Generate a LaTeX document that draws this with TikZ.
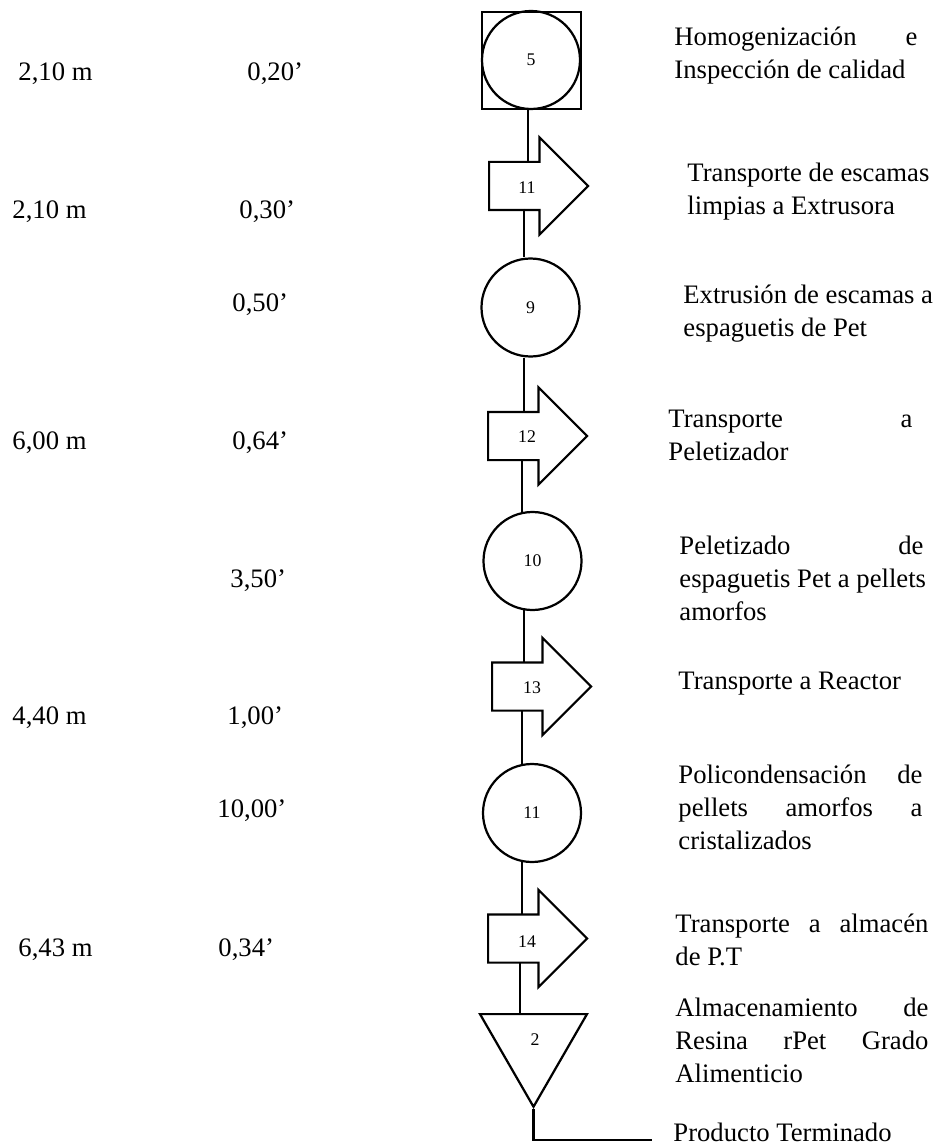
\documentclass[tikz,border=0pt]{standalone}
\usepackage{fontspec}
\setmainfont{Liberation Serif}
\usetikzlibrary{shapes.geometric, shapes.arrows, calc}
\newlength\pxu
\setlength\pxu{0.45pt}
\newcommand\llena[2]{\makebox[#1\pxu][s]{#2}}
\tikzstyle{operacion} = [circle, draw, line width=1pt, minimum size=98\pxu, inner sep=0pt, font=\fontsize{8}{9}\selectfont]
\tikzstyle{inspeccion} = [rectangle, draw, line width=1.2pt, minimum width=99\pxu, minimum height=97\pxu, inner sep=0pt]
\tikzstyle{transporte} = [single arrow, draw, line width=1pt, anchor=tail, inner xsep=0pt, inner ysep=10.35pt, minimum height=99\pxu, minimum width=95\pxu, single arrow head extend=24.5\pxu, single arrow tip angle=90]
\tikzstyle{almacen} = [regular polygon, regular polygon sides=3, shape border rotate=180, draw, line width=1pt, minimum size=123.5\pxu, inner sep=0pt]
\tikzstyle{etiqueta} = [inner sep=0pt, font=\fontsize{8}{9}\selectfont]
\tikzstyle{dato} = [anchor=base west, inner sep=0pt, font=\fontsize{12}{14.85}\selectfont]
\tikzstyle{texto} = [anchor=north west, inner sep=0pt, align=left, font=\fontsize{12}{14.85}\selectfont]
\tikzstyle{linea} = [line width=1pt]

\begin{document}
\begin{tikzpicture}[x=0.45pt, y=-0.45pt]
\useasboundingbox (0,0) rectangle (936,1145);

\node[inspeccion] (op5box) at (531.5,60.5) {};
\node[operacion] (op5) at (531,60) {5};
\node[transporte] (tr11) at (488,186) {};
\node[etiqueta] (n11) at (527,188) {11};
\node[operacion] (op9) at (530.5,307.5) {9};
\node[transporte] (tr12) at (487,436) {};
\node[etiqueta] (n12) at (527,437) {12};
\node[operacion] (op10) at (532.5,561) {10};
\node[transporte] (tr13) at (491,686.5) {};
\node[etiqueta] (n13) at (532,688) {13};
\node[operacion] (op11) at (532,813) {11};
\node[transporte] (tr14) at (487,938.5) {};
\node[etiqueta] (n14) at (527,942) {14};
\node[almacen] (st2) at (533.5,1045) {};
\node[etiqueta] (n2) at (535,1040) {2};
\coordinate (fin) at (652,1140);

\draw[linea] ($(op5.south)+(-3,0)$) -- ($(tr11.tail)+(40,-23)$);
\draw[linea] ($(tr11.tail)+(36,23)$) -- ($(op9.north)+(-6.5,0)$);
\draw[linea] ($(op9.south)+(-6.5,0)$) -- ($(tr12.tail)+(37,-23)$);
\draw[linea] ($(tr12.tail)+(35,23)$) -- ($(op10.north)+(-10.5,1)$);
\draw[linea] ($(op10.south)+(-8.5,-1)$) -- ($(tr13.tail)+(33,-23.5)$);
\draw[linea] ($(tr13.tail)+(31,23.5)$) -- ($(op11.north)+(-10,1)$);
\draw[linea] ($(op11.south)+(-10,-1)$) -- ($(tr14.tail)+(35,-23.5)$);
\draw[linea] ($(tr14.tail)+(33,23.5)$) -- ($(st2.side 2)+(-13.5,0)$);
\draw[linea] (st2.corner 1) |- (fin);

\node[texto] (t5) at (674,22) {\strut\llena{243}{Homogenización e}\\Inspección de calidad};
\node[texto] (t11) at (687,158) {\strut Transporte de escamas\\limpias a Extrusora};
\node[texto] (t9) at (683,280) {\strut Extrusión de escamas a\\espaguetis de Pet};
\node[texto] (t12) at (668,404) {\strut\llena{244}{Transporte a}\\Peletizador};
\node[texto] (t10) at (679,531) {\strut\llena{244}{Peletizado de}\\espaguetis Pet a pellets\\amorfos};
\node[texto] (t13) at (678,666) {\strut Transporte a Reactor};
\node[texto] (t11b) at (678,760) {\strut\llena{244}{Policondensación de}\\\llena{244}{pellets amorfos a}\\cristalizados};
\node[texto] (t14) at (675,909) {\strut\llena{253}{Transporte a almacén}\\de P.T};
\node[texto] (t2) at (675,993) {\strut\llena{253}{Almacenamiento de}\\\llena{253}{Resina rPet Grado}\\Alimenticio};
\node[dato] (tfin) at (673,1141) {Producto Terminado};

\node[dato] (dist1) at (18,81) {2,10 m};
\node[dato] (tiempo1) at (247,81) {0,20’};
\node[dato] (dist2) at (12,219) {2,10 m};
\node[dato] (tiempo2) at (239,219) {0,30’};
\node[dato] (tiempo3) at (232,312) {0,50’};
\node[dato] (dist3) at (12,449) {6,00 m};
\node[dato] (tiempo4) at (232,449) {0,64’};
\node[dato] (tiempo5) at (230,587) {3,50’};
\node[dato] (dist4) at (12,724) {4,40 m};
\node[dato] (tiempo6) at (227,724) {1,00’};
\node[dato] (tiempo7) at (217,817) {10,00’};
\node[dato] (dist5) at (18,956) {6,43 m};
\node[dato] (tiempo8) at (218,956) {0,34’};
\end{tikzpicture}
\end{document}
